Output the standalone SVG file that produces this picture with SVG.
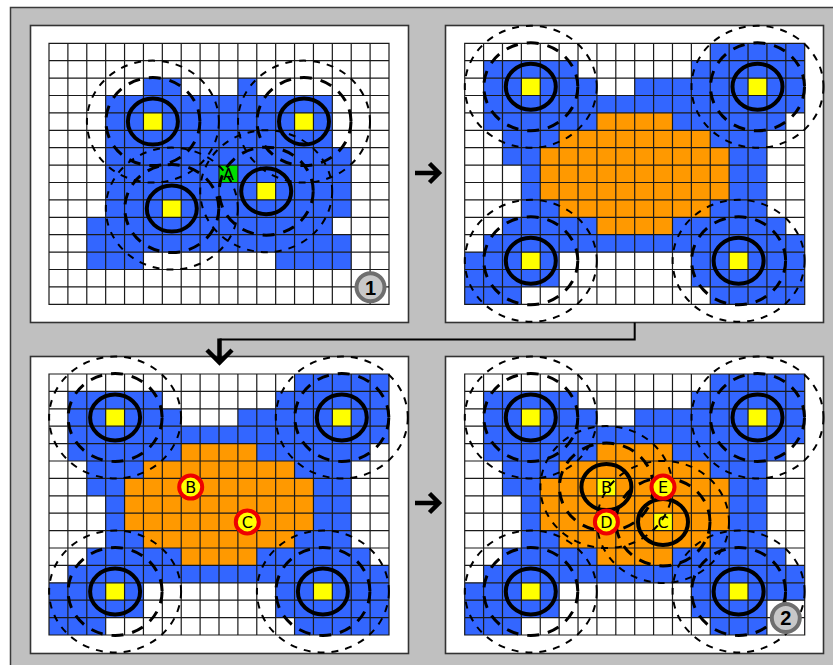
<svg xmlns="http://www.w3.org/2000/svg" width="833" height="665" viewBox="0 0 833 665">
<style>
.bg{fill:#c0c0c0;stroke:#3a3a3a;stroke-width:1.5}
.panel{fill:#fff;stroke:#333;stroke-width:1.6}
.b{fill:#3366ff}
.o{fill:#ff9900}
.y{fill:#ffff00}
.g{fill:#00dd00}
.w{fill:#fff}
.grid{fill:none;stroke:#1a1a1a;stroke-width:1.2}
.solid{fill:none;stroke:#000;stroke-width:4}
.d1{fill:none;stroke:#000;stroke-width:3;stroke-dasharray:12 9}
.d2{fill:none;stroke:#000;stroke-width:2;stroke-dasharray:7 7}
.mk{fill:#ffff00;stroke:#ee0000;stroke-width:4}
.lbl{font-family:"DejaVu Sans",sans-serif;font-size:16px;fill:#000;text-anchor:middle}
.badge{fill:#c8c8c8;stroke:#6e6e6e;stroke-width:4}
.btxt{font-family:"Liberation Sans",Arial,sans-serif;font-weight:bold;font-size:20px;fill:#000;text-anchor:middle}
.arr{fill:none;stroke:#000;stroke-width:4.5;stroke-linejoin:miter}
.conn{fill:none;stroke:#000;stroke-width:2}
</style>
<defs>
<path id="grid" class="grid" d="M0,0H340V261H0Z M18.89,0V261 M37.78,0V261 M56.67,0V261 M75.56,0V261 M94.44,0V261 M113.33,0V261 M132.22,0V261 M151.11,0V261 M170,0V261 M188.89,0V261 M207.78,0V261 M226.67,0V261 M245.56,0V261 M264.44,0V261 M283.33,0V261 M302.22,0V261 M321.11,0V261 M0,17.4H340 M0,34.8H340 M0,52.2H340 M0,69.6H340 M0,87H340 M0,104.4H340 M0,121.8H340 M0,139.2H340 M0,156.6H340 M0,174H340 M0,191.4H340 M0,208.8H340 M0,226.2H340 M0,243.6H340"/>
<g id="rings">
<ellipse class="d2" rx="66" ry="61"/>
<ellipse class="d1" rx="47" ry="44"/>
<ellipse class="solid" rx="25" ry="23"/>
</g>
<g id="base">
<rect class="w" width="18" height="15"/>
<rect class="b" x="13" y="0" width="5" height="1"/>
<rect class="b" x="1" y="1" width="5" height="1"/>
<rect class="b" x="12" y="1" width="6" height="1"/>
<rect class="b" x="1" y="2" width="6" height="1"/>
<rect class="b" x="9" y="2" width="9" height="1"/>
<rect class="b" x="1" y="3" width="17" height="1"/>
<rect class="b" x="1" y="4" width="6" height="1"/>
<rect class="b" x="11" y="4" width="6" height="1"/>
<rect class="b" x="2" y="5" width="3" height="1"/>
<rect class="b" x="13" y="5" width="3" height="1"/>
<rect class="b" x="2" y="6" width="2" height="1"/>
<rect class="b" x="3" y="7" width="1" height="2"/>
<rect class="b" x="14" y="6" width="2" height="3"/>
<rect class="b" x="3" y="9" width="2" height="1"/>
<rect class="b" x="13" y="9" width="3" height="1"/>
<rect class="b" x="2" y="10" width="5" height="1"/>
<rect class="b" x="11" y="10" width="6" height="1"/>
<rect class="b" x="1" y="11" width="17" height="1"/>
<rect class="b" x="0" y="12" width="5" height="2"/>
<rect class="b" x="12" y="12" width="6" height="2"/>
<rect class="b" x="0" y="14" width="3" height="1"/>
<rect class="b" x="13" y="14" width="5" height="1"/>
<rect class="o" x="7" y="4" width="4" height="1"/>
<rect class="o" x="5" y="5" width="8" height="1"/>
<rect class="o" x="4" y="6" width="10" height="3"/>
<rect class="o" x="5" y="9" width="8" height="1"/>
<rect class="o" x="7" y="10" width="4" height="1"/>
<rect class="y" x="3" y="2" width="1" height="1"/>
<rect class="y" x="15" y="2" width="1" height="1"/>
<rect class="y" x="3" y="12" width="1" height="1"/>
<rect class="y" x="14" y="12" width="1" height="1"/>
</g>
</defs>

<rect class="bg" x="10.5" y="7.5" width="830" height="665"/>

<g id="panel1">
<rect class="panel" x="30.5" y="25.5" width="378" height="297"/>
<g transform="translate(49,43.3) scale(18.89,17.4)">
<rect class="w" width="18" height="15"/>
<rect class="b" x="5" y="2" width="2" height="1"/>
<rect class="b" x="10" y="2" width="1" height="1"/>
<rect class="b" x="3" y="3" width="12" height="3"/>
<rect class="b" x="3" y="6" width="13" height="4"/>
<rect class="b" x="2" y="10" width="13" height="1"/>
<rect class="b" x="2" y="11" width="14" height="1"/>
<rect class="b" x="2" y="12" width="3" height="1"/>
<rect class="b" x="12" y="12" width="4" height="1"/>
<rect class="y" x="5" y="4" width="1" height="1"/>
<rect class="y" x="13" y="4" width="1" height="1"/>
<rect class="y" x="11" y="8" width="1" height="1"/>
<rect class="y" x="6" y="9" width="1" height="1"/>
<rect class="g" x="9" y="7" width="1" height="1"/>
</g>
<use href="#grid" x="49" y="43.3"/>
<g id="p1-n1"><use href="#rings" x="152.9" y="121.6"/></g>
<g id="p1-n2"><use href="#rings" x="304" y="121.6"/></g>
<g id="p1-n3"><use href="#rings" x="171.8" y="208.6"/></g>
<g id="p1-n4"><use href="#rings" x="266.2" y="191.2"/></g>
<g id="p1-A"><text class="lbl" x="228.4" y="179.6">A</text></g>
<g id="badge1"><circle class="badge" cx="370.5" cy="287.3" r="14"/><text class="btxt" x="370.5" y="294.5">1</text></g>
</g>

<g id="panel2">
<rect class="panel" x="445.5" y="25.5" width="378" height="297"/>
<use href="#base" transform="translate(464.7,43.3) scale(18.89,17.4)"/>
<use href="#grid" x="464.7" y="43.3"/>
<g id="p2-tl"><use href="#rings" x="530.8" y="86.8"/></g>
<g id="p2-tr"><use href="#rings" x="757.5" y="86.8"/></g>
<g id="p2-bl"><use href="#rings" x="530.8" y="260.8"/></g>
<g id="p2-br"><use href="#rings" x="738.6" y="260.8"/></g>
</g>

<g id="panel3">
<rect class="panel" x="30.5" y="356.5" width="378" height="297"/>
<g transform="translate(49,374) scale(18.89,17.4)">
<use href="#base"/>
<rect class="w" x="9" y="2" width="1" height="1"/>
</g>
<use href="#grid" x="49" y="374"/>
<g id="p3-tl"><use href="#rings" x="115.1" y="417.5"/></g>
<g id="p3-tr"><use href="#rings" x="341.8" y="417.5"/></g>
<g id="p3-bl"><use href="#rings" x="115.1" y="591.5"/></g>
<g id="p3-br"><use href="#rings" x="322.9" y="591.5"/></g>
<g id="p3-B"><circle class="mk" cx="190.7" cy="487.1" r="11.5"/><text class="lbl" x="190.7" y="492.9">B</text></g>
<g id="p3-C"><circle class="mk" cx="247.3" cy="521.9" r="11.5"/><text class="lbl" x="247.3" y="527.7">C</text></g>
</g>

<g id="panel4">
<rect class="panel" x="445.5" y="356.5" width="378" height="297"/>
<g transform="translate(464.7,374) scale(18.89,17.4)">
<use href="#base"/>
<rect class="w" x="16" y="13" width="2" height="2"/>
<rect class="y" x="7" y="6" width="1" height="1"/>
<rect class="y" x="10" y="8" width="1" height="1"/>
</g>
<use href="#grid" x="464.7" y="374"/>
<g id="p4-tl"><use href="#rings" x="530.8" y="417.5"/></g>
<g id="p4-tr"><use href="#rings" x="757.5" y="417.5"/></g>
<g id="p4-bl"><use href="#rings" x="530.8" y="591.5"/></g>
<g id="p4-br"><use href="#rings" x="738.6" y="591.5"/></g>
<g id="p4-B"><use href="#rings" x="606.4" y="487.1"/><text class="lbl" x="606.4" y="492.9">B</text></g>
<g id="p4-C"><use href="#rings" x="663" y="521.9"/><text class="lbl" x="663" y="527.7">C</text></g>
<g id="p4-E"><circle class="mk" cx="663" cy="487.1" r="11.5"/><text class="lbl" x="663" y="492.9">E</text></g>
<g id="p4-D"><circle class="mk" cx="606.4" cy="521.9" r="11.5"/><text class="lbl" x="606.4" y="527.7">D</text></g>
<g id="badge2"><circle class="badge" cx="785.8" cy="618" r="14"/><text class="btxt" x="785.8" y="625.2">2</text></g>
</g>

<g id="connectors">
<path class="arr" d="M415,173H438 M429.5,163.5L439,173L429.5,182.5"/>
<path class="arr" d="M415,503H438 M429.5,493.5L439,503L429.5,512.5"/>
<path class="conn" d="M634.7,322.5V339.5H219.5"/>
<path class="arr" d="M219.5,338.5V360 M207,350L219.5,362.5L232,350"/>
</g>
</svg>
